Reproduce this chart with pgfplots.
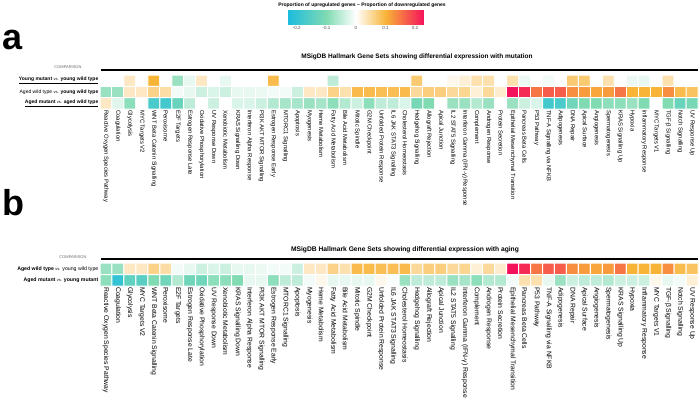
\documentclass[border=0pt]{standalone}
\usepackage{pgfplots}
\pgfplotsset{compat=1.18}
\usepackage{fontspec}
\setmainfont{Liberation Sans}
\pgfplotsset{colormap={hm}{rgb255(0pt)=(28,188,222); rgb255(13pt)=(128,218,178); rgb255(23pt)=(255,255,255); rgb255(33pt)=(248,180,55); rgb255(46pt)=(245,18,92)}}
\newcommand{\vs}{{\fontsize{4}{4}\selectfont\mdseries vs.}}
\newcommand{\genesets}{Reactive Oxygen Species Pathway,Coagulation,Glycolysis,MYC Targets V2,WNT Beta Catenin Signalling,Peroxisome,E2F Targets,Estrogen Response Late,Oxidative Phosphorylation,UV Response Down,Xenobiotic Metabolism,KRAS Signalling Down,Interferon Alpha Response,PI3K AKT MTOR Signalling,Estrogen Response Early,MTORC1 Signalling,Apoptosis,Myogenesis,Heme Metabolism,Fatty Acid Metabolism,Bile Acid Metabolism,Mitotic Spindle,G2M Checkpoint,Unfolded Protein Response,IL6 JAK STAT3 Signalling,Cholesterol Homeostasis,Hedgehog Signalling,Allograft Rejection,Apical Junction,IL2 STAT5 Signalling,Interferon Gamma (IFN-γ) Response,Complement,Androgen Response,Protein Secretion,Epithelial Mesenchymal Transition,Pancreas Beta Cells,P53 Pathway,TNF-A Signalling via NFKB,Adipogenesis,DNA Repair,Apical Surface,Angiogenesis,Spermatogenesis,KRAS Signalling Up,Hypoxia,Inflammatory Response,MYC Targets V1,TGF-β Signalling,Notch Signalling,UV Response Up}
\begin{document}
\begin{tikzpicture}
\path[use as bounding box] (0pt,0pt) rectangle (700pt,-399pt);
% panel letters
\node[font=\fontsize{36}{36}\selectfont\bfseries] at (13pt,-40pt) {a};
\node[font=\fontsize{36}{36}\selectfont\bfseries] at (13pt,-203pt) {b};
% colorbar title
\node[font=\fontsize{5}{5}\selectfont\bfseries] at (362pt,-5pt) {Proportion of upregulated genes – Proportion of downregulated genes};
% panel a header
\node[font=\fontsize{6.5}{6.5}\selectfont\bfseries] at (417pt,-57pt) {MSigDB Hallmark Gene Sets showing differential expression with mutation};
\node[font=\fontsize{4}{4}\selectfont, text=black!60, anchor=east] at (85pt,-67pt) {COMPARISON};
\draw[line width=2pt] (101pt,-70pt) -- (698pt,-70pt);
% panel b header
\node[font=\fontsize{6.7}{6.7}\selectfont\bfseries] at (405pt,-250pt) {MSigDB Hallmark Gene Sets showing differential expression with aging};
\node[font=\fontsize{4}{4}\selectfont, text=black!60, anchor=east] at (90pt,-257pt) {COMPARISON};
\draw[line width=2pt] (101pt,-259pt) -- (698pt,-259pt);

\begin{axis}[
 at={(100pt,-75pt)}, anchor=north west,
 scale only axis, width=598pt, height=34pt,
 xmin=-0.5, xmax=49.5, ymin=-0.5, ymax=2.5, y dir=reverse,
 axis line style={draw=none}, major tick length=0pt,
 xtick={0,...,49}, xticklabels/.expand once={\genesets},
 ytick={0,1,2},
 yticklabels={{\underline{\textbf{Young mutant} \vs{} \textbf{young wild type}}},{Aged wild type \vs{} \textbf{young wild type}},{\underline{\textbf{Aged mutant} \vs{} \textbf{aged wild type}}}},
 xticklabel style={rotate=-90, anchor=west, font=\fontsize{5.9}{6}\selectfont, inner sep=1pt},
 yticklabel style={font=\fontsize{5}{5}\selectfont, anchor=east, inner sep=1.5pt},
 colormap name=hm, point meta min=-0.23, point meta max=0.23,
 colorbar horizontal,
 colorbar style={
   at={(0.428,2.5)}, anchor=south,
   width=136pt, height=14pt, scale only axis,
   xtick={-0.2,-0.1,0,0.1,0.2},
   xticklabels={-0.2,-0.1,0,0.1,0.2},
   xticklabel style={font=\fontsize{4.5}{5}\selectfont, text=black!70, inner sep=1pt, yshift=-1pt},
   major tick length=0pt,
   axis line style={draw=none},
 },
]
\addplot[matrix plot, mesh/cols=50, point meta=explicit, shader=faceted, faceted color=white, line width=1pt]
table[row sep=\\, meta=c] {
x y c\\
0 0 0\\ 1 0 0\\ 2 0 0.03\\ 3 0 0\\ 4 0 0.10\\ 5 0 0\\ 6 0 -0.08\\ 7 0 -0.02\\ 8 0 0.03\\ 9 0 0\\
10 0 -0.02\\ 11 0 0\\ 12 0 0\\ 13 0 0\\ 14 0 0.09\\ 15 0 0\\ 16 0 0\\ 17 0 0\\ 18 0 0\\ 19 0 -0.05\\
20 0 0\\ 21 0 0\\ 22 0 0\\ 23 0 0\\ 24 0 0\\ 25 0 0\\ 26 0 0.07\\ 27 0 0\\ 28 0 0\\ 29 0 0.01\\
30 0 0.02\\ 31 0 0.04\\ 32 0 0.04\\ 33 0 0\\ 34 0 0.04\\ 35 0 -0.015\\ 36 0 0\\ 37 0 -0.01\\ 38 0 0\\ 39 0 0.07\\
40 0 0.07\\ 41 0 0\\ 42 0 0.04\\ 43 0 0\\ 44 0 -0.015\\ 45 0 -0.02\\ 46 0 0\\ 47 0 0.04\\ 48 0 0\\ 49 0 0\\
0 1 -0.08\\ 1 1 -0.08\\ 2 1 0.03\\ 3 1 0.03\\ 4 1 0.06\\ 5 1 0.045\\ 6 1 -0.01\\ 7 1 -0.02\\ 8 1 -0.04\\ 9 1 -0.03\\
10 1 -0.04\\ 11 1 -0.02\\ 12 1 -0.02\\ 13 1 -0.015\\ 14 1 -0.01\\ 15 1 -0.01\\ 16 1 -0.04\\ 17 1 0.03\\ 18 1 0.03\\ 19 1 0.06\\
20 1 0.04\\ 21 1 0.09\\ 22 1 0.09\\ 23 1 0.085\\ 24 1 0.085\\ 25 1 0.09\\ 26 1 0.05\\ 27 1 0.065\\ 28 1 0.065\\ 29 1 0.05\\
30 1 0.055\\ 31 1 0.02\\ 32 1 0.05\\ 33 1 0.025\\ 34 1 0.23\\ 35 1 0.21\\ 36 1 0.15\\ 37 1 0.17\\ 38 1 0.17\\ 39 1 0.13\\
40 1 0.12\\ 41 1 0.11\\ 42 1 0.12\\ 43 1 0.15\\ 44 1 0.10\\ 45 1 0.10\\ 46 1 0.10\\ 47 1 0.13\\ 48 1 0.09\\ 49 1 0.08\\
0 2 0.03\\ 1 2 -0.025\\ 2 2 -0.09\\ 3 2 0\\ 4 2 -0.17\\ 5 2 -0.18\\ 6 2 -0.13\\ 7 2 -0.05\\ 8 2 0\\ 9 2 -0.04\\
10 2 0\\ 11 2 -0.03\\ 12 2 -0.03\\ 13 2 -0.04\\ 14 2 -0.06\\ 15 2 -0.07\\ 16 2 -0.07\\ 17 2 -0.08\\ 18 2 -0.07\\ 19 2 -0.09\\
20 2 -0.06\\ 21 2 -0.04\\ 22 2 -0.09\\ 23 2 -0.05\\ 24 2 -0.05\\ 25 2 -0.03\\ 26 2 -0.11\\ 27 2 -0.10\\ 28 2 0\\ 29 2 -0.08\\
30 2 -0.08\\ 31 2 -0.06\\ 32 2 -0.08\\ 33 2 0\\ 34 2 -0.08\\ 35 2 -0.04\\ 36 2 -0.03\\ 37 2 -0.18\\ 38 2 -0.17\\ 39 2 -0.12\\
40 2 -0.10\\ 41 2 -0.10\\ 42 2 -0.09\\ 43 2 -0.09\\ 44 2 -0.08\\ 45 2 -0.10\\ 46 2 0\\ 47 2 -0.10\\ 48 2 -0.13\\ 49 2 -0.11\\
};
\end{axis}

\begin{axis}[
 at={(100pt,-263pt)}, anchor=north west,
 scale only axis, width=598pt, height=23pt,
 xmin=-0.5, xmax=49.5, ymin=-0.5, ymax=1.5, y dir=reverse,
 axis line style={draw=none}, major tick length=0pt,
 xtick={0,...,49}, xticklabels/.expand once={\genesets},
 ytick={0,1},
 yticklabels={{\textbf{Aged wild type} \vs{} young wild type},{\textbf{Aged mutant} \vs{} \textbf{young mutant}}},
 xticklabel style={rotate=-90, anchor=west, font=\fontsize{6.8}{6.9}\selectfont, inner sep=1pt},
 yticklabel style={font=\fontsize{5.2}{5.2}\selectfont, anchor=east, inner sep=1.5pt},
 colormap name=hm, point meta min=-0.23, point meta max=0.23,
]
\addplot[matrix plot, mesh/cols=50, point meta=explicit, shader=faceted, faceted color=white, line width=1pt]
table[row sep=\\, meta=c] {
x y c\\
0 0 -0.08\\ 1 0 -0.08\\ 2 0 0.03\\ 3 0 0.03\\ 4 0 0.06\\ 5 0 0.045\\ 6 0 -0.01\\ 7 0 -0.02\\ 8 0 -0.04\\ 9 0 -0.03\\
10 0 -0.04\\ 11 0 -0.02\\ 12 0 -0.02\\ 13 0 -0.015\\ 14 0 -0.01\\ 15 0 -0.01\\ 16 0 -0.04\\ 17 0 0.03\\ 18 0 0.03\\ 19 0 0.06\\
20 0 0.04\\ 21 0 0.09\\ 22 0 0.09\\ 23 0 0.085\\ 24 0 0.085\\ 25 0 0.09\\ 26 0 0.05\\ 27 0 0.065\\ 28 0 0.065\\ 29 0 0.05\\
30 0 0.055\\ 31 0 0.02\\ 32 0 0.05\\ 33 0 0.025\\ 34 0 0.23\\ 35 0 0.21\\ 36 0 0.15\\ 37 0 0.17\\ 38 0 0.17\\ 39 0 0.13\\
40 0 0.12\\ 41 0 0.11\\ 42 0 0.12\\ 43 0 0.15\\ 44 0 0.10\\ 45 0 0.10\\ 46 0 0.10\\ 47 0 0.13\\ 48 0 0.09\\ 49 0 0.08\\
0 1 -0.09\\ 1 1 -0.20\\ 2 1 -0.14\\ 3 1 -0.15\\ 4 1 -0.10\\ 5 1 -0.12\\ 6 1 -0.06\\ 7 1 -0.12\\ 8 1 -0.12\\ 9 1 -0.09\\
10 1 -0.09\\ 11 1 -0.10\\ 12 1 -0.02\\ 13 1 -0.02\\ 14 1 -0.09\\ 15 1 -0.05\\ 16 1 -0.05\\ 17 1 -0.01\\ 18 1 0.01\\ 19 1 -0.02\\
20 1 -0.02\\ 21 1 -0.02\\ 22 1 -0.02\\ 23 1 0.01\\ 24 1 -0.005\\ 25 1 -0.08\\ 26 1 -0.05\\ 27 1 -0.05\\ 28 1 -0.05\\ 29 1 -0.08\\
30 1 -0.07\\ 31 1 -0.09\\ 32 1 -0.06\\ 33 1 -0.06\\ 34 1 -0.01\\ 35 1 0.04\\ 36 1 0.04\\ 37 1 -0.02\\ 38 1 -0.08\\ 39 1 -0.04\\
40 1 -0.05\\ 41 1 -0.05\\ 42 1 -0.06\\ 43 1 -0.04\\ 44 1 -0.04\\ 45 1 -0.04\\ 46 1 0.01\\ 47 1 -0.02\\ 48 1 -0.01\\ 49 1 0.02\\
};
\end{axis}
\end{tikzpicture}
\end{document}
